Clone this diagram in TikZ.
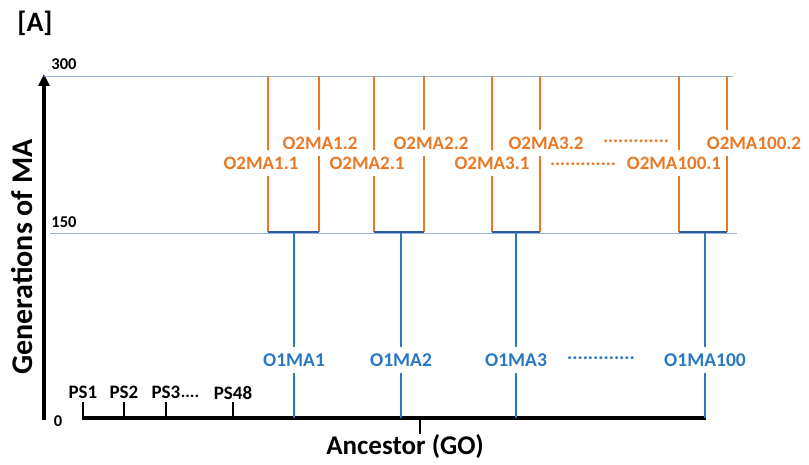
\documentclass[tikz,border=0pt]{standalone}
\usepackage{fontspec}
\setmainfont{Carlito}
\usetikzlibrary{arrows.meta}

\definecolor{orng}{RGB}{234,120,36}
\definecolor{blu}{RGB}{40,120,195}
\definecolor{barblue}{RGB}{47,90,160}
\definecolor{gridblue}{RGB}{150,180,225}

\tikzset{
  axisline/.style={draw=black, line width=3.2pt},
  tickline/.style={draw=black, line width=2.6pt},
  gridline/.style={draw=gridblue, line width=0.9pt},
  orangeline/.style={draw=orng, line width=1.8pt},
  blueline/.style={draw=blu, line width=1.8pt},
  barline/.style={draw=barblue, line width=2pt},
  olbl/.style={text=orng, font=\bfseries\fontsize{19}{19}\selectfont, inner sep=0pt, minimum height=26pt},
  blbl/.style={text=blu, font=\bfseries\fontsize{19.5}{19.5}\selectfont, inner sep=0pt, minimum height=26pt},
  pslbl/.style={text=black, font=\bfseries\fontsize{19}{19}\selectfont, inner sep=0pt, minimum height=14pt, anchor=south},
  numlbl/.style={text=black, font=\bfseries\fontsize{16.5}{16.5}\selectfont, inner sep=0pt},
  dotslbl/.style={font=\bfseries\fontsize{17}{17}\selectfont, inner sep=0pt},
}

\begin{document}
\begin{tikzpicture}[x=1pt, y=-1pt]
\useasboundingbox (0,0) rectangle (809,465);

% panel tag
\node[font=\bfseries\fontsize{28}{28}\selectfont, inner sep=0pt] (tag) at (35,23) {[A]};

% axes
\coordinate (origin) at (44,420);
\coordinate (ytop) at (44,74);
\draw[axisline, -{Triangle[length=12pt,width=11pt]}] (origin) -- (ytop);
\node[rotate=90, font=\bfseries\fontsize{30}{30}\selectfont, inner sep=0pt] (ylab) at (22,257) {Generations of MA};

\coordinate (b0) at (82,418);
\coordinate (b1) at (706,418);
\draw[axisline] (b0) -- (b1);

% axis values and generation levels
\node[numlbl] (v300) at (64,64) {300};
\node[numlbl] (v150) at (64,222) {150};
\node[numlbl] (v0) at (58,421) {0};
\coordinate (g300a) at (44,76);
\coordinate (g300b) at (733,76);
\coordinate (g150a) at (50,233);
\coordinate (g150b) at (737,233);
\draw[gridline] (g300a) -- (g300b);
\draw[gridline] (g150a) -- (g150b);

% ancestor tick
\node[font=\bfseries\fontsize{27}{27}\selectfont, inner sep=0pt] (anc) at (405,447) {Ancestor (GO)};
\coordinate (anct) at (420,418);
\draw[tickline] (anct) -- (anct |- 0,434);

% founder populations
\node[pslbl] (ps1) at (83,400) {PS1};
\node[pslbl] (ps2) at (124,400) {PS2};
\node[pslbl] (ps3) at (166,400) {PS3};
\node[pslbl] (ps48) at (233,400) {PS48};
\node[dotslbl, anchor=south] (psdots) at (190,398) {....};
\foreach \p in {ps1,ps2,ps3,ps48}
  \draw[tickline] (\p.south |- b0) -- ([yshift=-2pt]\p.south);

% first-order lines
\foreach \n/\x/\t in {o1/294/O1MA1, o2/401/O1MA2, o3/516/O1MA3, o4/705/O1MA100}{
  \node[blbl] (\n) at (\x,360) {\t};
  \coordinate (\n top) at (\x,233);
  \coordinate (\n bot) at (\x,418);
  \draw[blueline] (\n top) -- (\n.north);
  \draw[blueline] (\n.south) -- (\n bot);
}
\node[blbl] (o1dots) at (601,358) {.............};

% second-order brackets
\foreach \n/\xl/\xr/\cl/\cr/\tl/\tr in {
    a/268/319/261/320/O2MA1.1/O2MA1.2,
    b/374/424/367/431/O2MA2.1/O2MA2.2,
    c/492/540/492/546/O2MA3.1/O2MA3.2,
    d/679/727/674/754/O2MA100.1/O2MA100.2}{
  \node[olbl] (\n l) at (\cl,163) {\tl};
  \node[olbl] (\n r) at (\cr,143) {\tr};
  \coordinate (\n lt) at (\xl,76);
  \coordinate (\n lb) at (\xl,232);
  \coordinate (\n rt) at (\xr,76);
  \coordinate (\n rb) at (\xr,232);
  \draw[orangeline] (\n lt) -- (\n lt |- \n l.north);
  \draw[orangeline] (\n lb |- \n l.south) -- (\n lb);
  \draw[orangeline] (\n rt) -- (\n rt |- \n r.north);
  \draw[orangeline] (\n rb |- \n r.south) -- (\n rb);
  \draw[barline] (\n lb) -- (\n rb);
}
\node[olbl] (o2dotsr) at (636,141) {.............};
\node[olbl] (o2dotsl) at (583,164) {.............};
\end{tikzpicture}
\end{document}
